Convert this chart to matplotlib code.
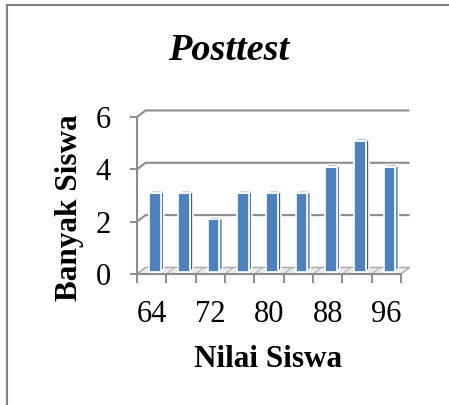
import matplotlib.pyplot as plt
import numpy as np
from matplotlib.patches import Polygon
from matplotlib.lines import Line2D

plt.rcParams['font.family'] = ['Liberation Serif', 'DejaVu Serif']

scores = [64, 68, 72, 76, 80, 84, 88, 92, 96]
counts = [3, 3, 2, 3, 3, 3, 4, 5, 4]
y_ticks = [0, 2, 4, 6]

GRAY = '#8c8c8c'
FRONT = '#4f81bd'
SIDE = '#385d8a'
TOP = '#6d95cc'

# 3D depth offset of the back wall, in data units
dx, dy = 0.29, 0.25
f, d = 0.38, 0.34   # bar front offset / bar depth (fractions of the depth)
bw = 0.40

W, H = 449, 405
fig = plt.figure(figsize=(W / 100, H / 100), dpi=100)
ax = fig.add_axes([137 / W, 1 - 274 / H, 264 / W, 157 / H])
n = len(scores)
ax.set_xlim(0, n)
ax.set_ylim(0, 6)
for s in ax.spines.values():
    s.set_visible(False)

# gridlines on the back wall
for y in y_ticks[1:]:
    ax.plot([0, dx, n + dx], [y, y + dy, y + dy], color=GRAY, lw=1.5,
            zorder=1, clip_on=False, solid_capstyle='butt')

# floor
floor = Polygon([(0, 0), (n, 0), (n + dx, dy), (dx, dy)], closed=True,
                facecolor='#ececec', edgecolor='#a6a6a6', lw=1, zorder=2,
                clip_on=False)
ax.add_patch(floor)
for i in range(n + 1):
    ax.plot([i, i + dx], [0, dy], color='#b0b0b0', lw=0.8, zorder=2,
            clip_on=False)

# front axis lines
ax.plot([0, 0], [0, 6], color=GRAY, lw=1.5, zorder=2, clip_on=False)
ax.plot([0, n], [0, 0], color=GRAY, lw=1.5, zorder=2, clip_on=False)

# bars
centers = np.arange(n) + 0.5
x0 = centers + f * dx
ax.bar(x0, counts, width=bw, bottom=f * dy, color=FRONT,
       edgecolor='white', lw=1.2, zorder=4, clip_on=False)
for xc, c in zip(x0, counts):
    xl, xr = xc - bw / 2, xc + bw / 2
    y0 = f * dy
    top = c + f * dy
    side = Polygon([(xr, y0), (xr + d * dx, y0 + d * dy),
                    (xr + d * dx, top + d * dy), (xr, top)], closed=True,
                   facecolor=SIDE, edgecolor='white', lw=1.2, zorder=3,
                   clip_on=False)
    cap = Polygon([(xl, top), (xr, top), (xr + d * dx, top + d * dy),
                   (xl + d * dx, top + d * dy)], closed=True,
                  facecolor=TOP, edgecolor='white', lw=1.2, zorder=5,
                  clip_on=False)
    ax.add_patch(side)
    ax.add_patch(cap)

# ticks
ax.set_yticks(y_ticks)
ax.set_yticklabels([str(v) for v in y_ticks])
ax.tick_params(axis='y', length=5, width=1.4, color=GRAY, pad=14,
               labelsize=22)
ax.set_xticks(range(n + 1))
ax.set_xticklabels([''] * (n + 1))
ax.tick_params(axis='x', which='major', length=6.5, width=1.4, color=GRAY)
ax.set_xticks(centers[::2], minor=True)
ax.set_xticklabels([str(s) for s in scores[::2]], minor=True)
ax.tick_params(axis='x', which='minor', length=0, pad=19, labelsize=22)

# titles
fig.text(229 / W, 1 - 60 / H, 'Posttest', fontsize=27.5, weight='bold',
         style='italic', ha='center', va='baseline')
fig.text(268 / W, 1 - 367 / H, 'Nilai Siswa', fontsize=22.5,
         weight='bold', ha='center', va='baseline')
fig.text(77 / W, 1 - 208 / H, 'Banyak Siswa', fontsize=22.5,
         weight='bold', ha='center', va='baseline', rotation=90,
         rotation_mode='anchor')

# outer frame
fig.add_artist(Line2D([7 / W, 7 / W], [0, 1 - 5 / H], color='#808080',
                      lw=1.5, transform=fig.transFigure))
fig.add_artist(Line2D([7 / W, 1], [1 - 5 / H, 1 - 5 / H], color='#808080',
                      lw=1.5, transform=fig.transFigure))

fig.savefig('out.png', dpi=100)
